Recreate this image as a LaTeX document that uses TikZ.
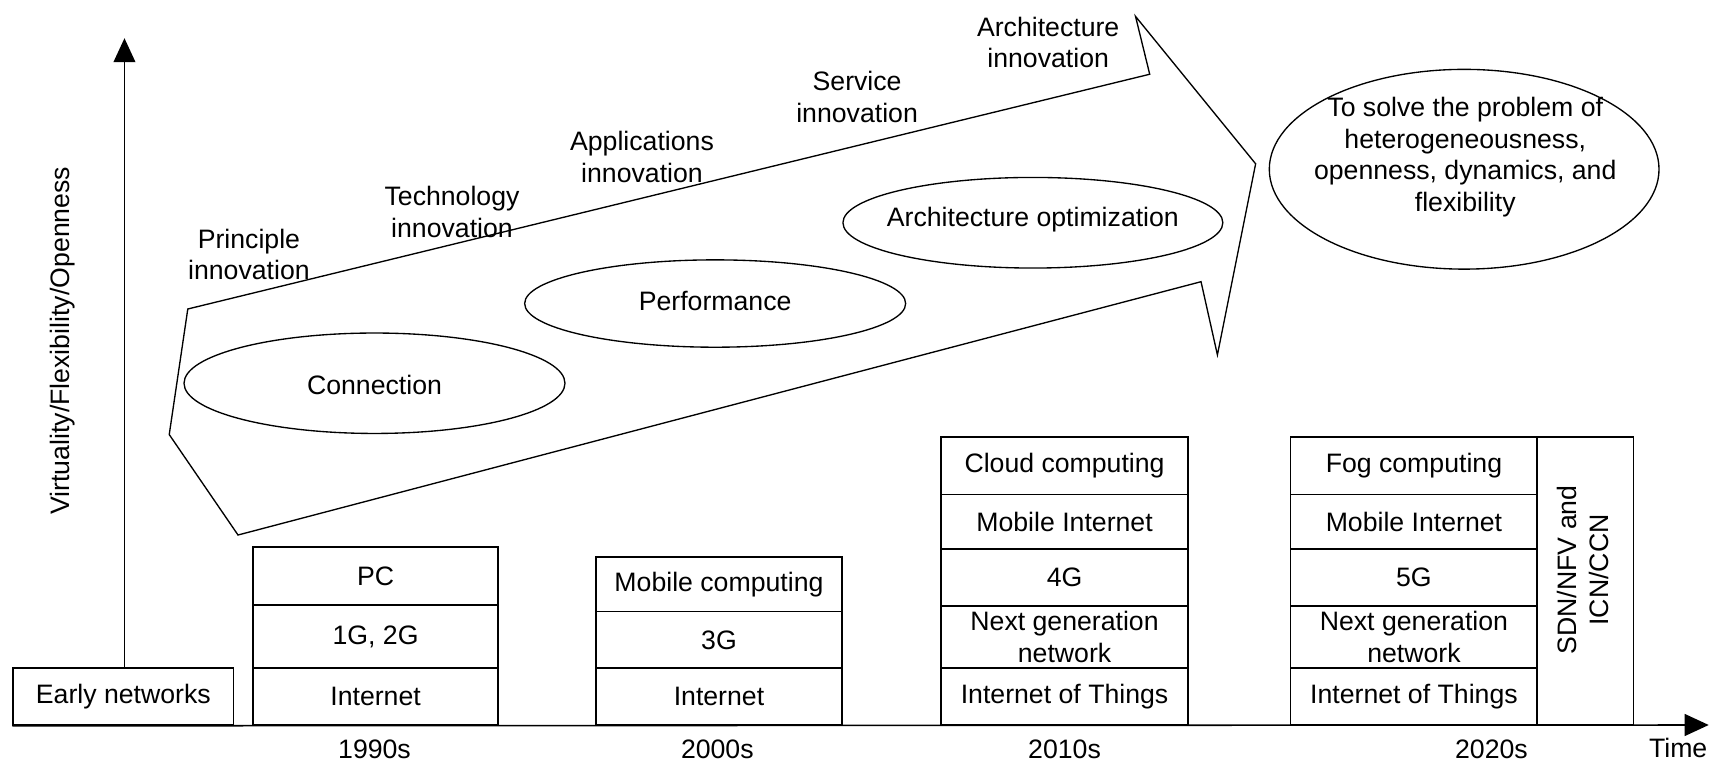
\documentclass[tikz,border=0pt]{standalone}
\usepackage{fontspec}
\setmainfont{Liberation Sans}
\usetikzlibrary{arrows.meta,shapes.geometric}
\begin{document}
\begin{tikzpicture}[x=0.02cm,y=-0.02cm,
  every node/.style={font=\fontsize{13.9pt}{16.5pt}\selectfont},
  cell/.style={draw, line width=0.9pt, inner sep=0pt, align=center},
  oval/.style={draw, ellipse, line width=0.7pt, inner sep=0pt},
  txt/.style={align=center, inner sep=0pt},
  outline/.style={draw, line width=0.7pt, line join=miter},
  axis/.style={line width=0.8pt, -{Triangle[length=0.44cm,width=0.4cm]}}]
\useasboundingbox (0,0) rectangle (1568,700);

% big arrow
\draw[outline] (172,283) -- (1053,68) -- (1040,15) -- (1150,150) -- (1115,325) -- (1100,258) -- (218,490) -- (155,398) -- cycle;

% ellipses
\node[oval, minimum width=6.98cm, minimum height=1.84cm] (conn) at (343,351) {};
\node[txt] (conntxt) at (343,353) {Connection};
\node[oval, minimum width=6.98cm, minimum height=1.6cm] (perf) at (655,278) {};
\node[txt] (perftxt) at (655,276) {Performance};
\node[oval, minimum width=6.96cm, minimum height=1.66cm] (arch) at (946,204) {};
\node[txt] (archtxt) at (946,201) {Architecture optimization};
\node[oval, minimum width=7.14cm, minimum height=3.66cm] (goal) at (1341,155) {};
\node[txt] (goaltxt) at (1342,144) {To solve the problem of\\heterogeneousness,\\openness, dynamics, and\\flexibility};

% innovation labels
\node[txt] (prin) at (228,233) {Principle\\innovation};
\node[txt] (tech) at (414,194) {Technology\\innovation};
\node[txt] (appl) at (588,144) {Applications\\innovation};
\node[txt] (serv) at (785,89) {Service\\innovation};
\node[txt] (archi) at (960,39) {Architecture\\innovation};

% y label
\node[rotate=90] (ylab) at (57,312) {Virtuality/Flexibility/Openness};

% boxes
\node[cell, minimum width=4.04cm, minimum height=1.04cm] (early) at (113,638) {Early networks};

\node[cell, minimum width=4.48cm, minimum height=1.06cm] (pc) at (344,527.5) {PC};
\node[cell, minimum width=4.48cm, minimum height=1.16cm] (g12) at (344,583) {1G, 2G};
\node[cell, minimum width=4.48cm, minimum height=1.04cm] (inet90) at (344,638) {Internet};

\node[cell, minimum width=4.5cm, minimum height=1.0cm] (mobcomp) at (658.5,535) {Mobile computing};
\node[cell, minimum width=4.5cm, minimum height=1.04cm] (g3) at (658.5,586) {3G};
\node[cell, minimum width=4.5cm, minimum height=1.04cm] (inet00) at (658.5,638) {Internet};

\node[cell, minimum width=4.52cm, minimum height=1.06cm] (cloud) at (975,426.5) {Cloud computing};
\node[cell, minimum width=4.52cm, minimum height=1.0cm] (mob10) at (975,478) {Mobile Internet};
\node[cell, minimum width=4.52cm, minimum height=1.04cm] (g4) at (975,529) {4G};
\node[cell, minimum width=4.52cm, minimum height=1.14cm] (ngn10) at (975,583.5) {Next generation\\network};
\node[cell, minimum width=4.52cm, minimum height=1.04cm] (iot10) at (975,638) {Internet of Things};

\node[cell, minimum width=4.52cm, minimum height=1.06cm] (fog) at (1295,426.5) {Fog computing};
\node[cell, minimum width=4.52cm, minimum height=1.0cm] (mob20) at (1295,478) {Mobile Internet};
\node[cell, minimum width=4.52cm, minimum height=1.04cm] (g5) at (1295,529) {5G};
\node[cell, minimum width=4.52cm, minimum height=1.14cm] (ngn20) at (1295,583.5) {Next generation\\network};
\node[cell, minimum width=4.52cm, minimum height=1.04cm] (iot20) at (1295,638) {Internet of Things};

\node[cell, minimum width=1.76cm, minimum height=5.28cm] (sdn) at (1452,532) {};
\node[txt, rotate=90] (sdntxt) at (1450,522) {SDN/NFV and\\ICN/CCN};

% axes
\coordinate (ytip) at (114,35);
\draw[axis] (early.north) ++(1,0) -- (ytip);
\coordinate (xtip) at (1565,664);
\draw[axis] (early.south west) -- (xtip);

% year labels
\node[txt] (y90) at (343,686) {1990s};
\node[txt] (y00) at (657,686) {2000s};
\node[txt] (y10) at (975,686) {2010s};
\node[txt] (y20) at (1366,686) {2020s};
\node[txt] (time) at (1537,685) {Time};
\end{tikzpicture}
\end{document}
